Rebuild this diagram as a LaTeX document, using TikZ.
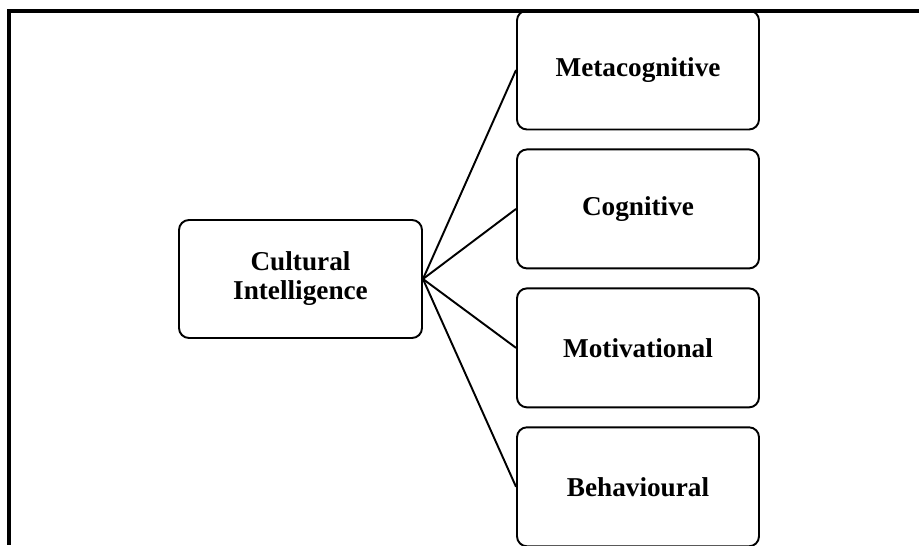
\documentclass[tikz,border=0pt]{standalone}
\usepackage{fontspec}
\setmainfont{Liberation Serif}
\usepackage{tikz}
\usetikzlibrary{positioning}
\tikzstyle{concept} = [rectangle, rounded corners=0.2cm, minimum width=4.86cm, minimum height=2.36cm, align=center, draw=black, line width=1.1pt, font=\fontsize{15.5}{16.5}\selectfont\bfseries]
\tikzstyle{dimension} = [rectangle, rounded corners=0.2cm, minimum width=4.84cm, minimum height=2.38cm, text centered, draw=black, line width=1.1pt, font=\fontsize{15.5}{16.5}\selectfont\bfseries]
\tikzstyle{link} = [line width=1.1pt]

\begin{document}
\begin{tikzpicture}[node distance=0.36cm]
\useasboundingbox (0,0) rectangle (18.38,10.9);
% frame
\draw [line width=1.8pt] (18.38,10.68) -- (0.18,10.68) -- (0.18,0);

\node (cq) [concept] at (6.01,5.32) {Cultural\\Intelligence};
\node (meta) [dimension] at (12.76,9.5) {Metacognitive};
\node (cog) [dimension, below=of meta] {Cognitive};
\node (motiv) [dimension, below=of cog] {Motivational};
\node (behav) [dimension, below=of motiv] {Behavioural};

\draw [link] (cq.east) -- (meta.west);
\draw [link] (cq.east) -- (cog.west);
\draw [link] (cq.east) -- (motiv.west);
\draw [link] (cq.east) -- (behav.west);
\end{tikzpicture}
\end{document}
